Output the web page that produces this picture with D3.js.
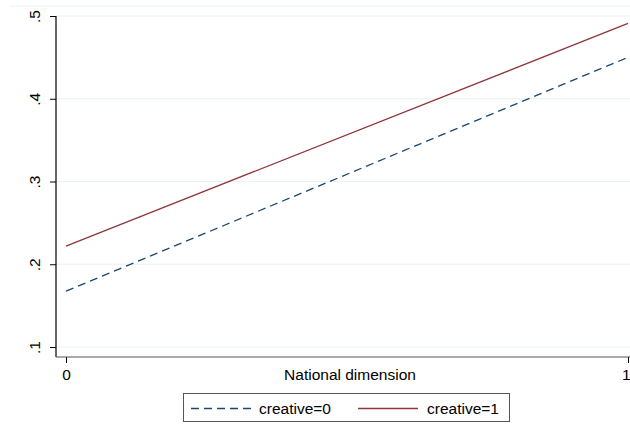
<!DOCTYPE html>
<html>
<head>
<meta charset="utf-8">
<script src="https://cdn.jsdelivr.net/npm/d3@7"></script>
<style>
  body { margin: 0; background: #fff; }
  text { font-family: "Liberation Sans", Arial, sans-serif; }
</style>
</head>
<body>
<div id="chart"></div>
<script>
'use strict';

// data
const xValues = [0, 1];
const creative0 = [0.1675, 0.450];
const creative1 = [0.222, 0.491];
const yTicks = [0.1, 0.2, 0.3, 0.4, 0.5];
const xTicks = [0, 1];
const seriesNames = ['creative=0', 'creative=1'];

const width = 630, height = 433;
const fontSize = '15.5px';

let svg = d3.select('#chart').append('svg')
    .attr('width', width)
    .attr('height', height);

let x = d3.scaleLinear().domain([0, 1]).range([66, 628]);
let y = d3.scaleLinear().domain([0.1, 0.5]).range([347, 16]);

let axisLeftX = 56, axisBottomY = 357;

// outer region line at top
svg.append('line')
    .attr('x1', 10).attr('x2', width)
    .attr('y1', 6).attr('y2', 6)
    .style('stroke', '#eaf2f3').style('stroke-width', 1);

// grid lines
svg.append('g').selectAll('line')
    .data(yTicks).enter()
    .append('line')
    .attr('x1', axisLeftX).attr('x2', width)
    .attr('y1', d => y(d)).attr('y2', d => y(d))
    .style('stroke', '#eaf2f3').style('stroke-width', 1);

// y axis
let yAxis = svg.append('g')
    .attr('transform', 'translate(' + axisLeftX + ',0)')
    .call(d3.axisLeft(y).tickValues(yTicks).tickSize(6).tickSizeOuter(0)
        .tickFormat(d => d3.format('.1f')(d).replace(/^0/, '')));
yAxis.select('.domain').remove();
yAxis.selectAll('.tick line').style('stroke', '#000');
yAxis.selectAll('.tick text')
    .attr('transform', 'rotate(-90)')
    .attr('x', 0).attr('y', -21)
    .attr('dy', '0.35em')
    .style('text-anchor', 'middle')
    .style('font-size', fontSize)
    .style('fill', '#000');

svg.append('line')
    .attr('x1', axisLeftX).attr('x2', axisLeftX)
    .attr('y1', 16).attr('y2', axisBottomY)
    .style('stroke', '#000').style('stroke-width', 1.2);

// x axis
let xAxis = svg.append('g')
    .attr('transform', 'translate(0,' + axisBottomY + ')')
    .call(d3.axisBottom(x).tickValues(xTicks).tickSize(6).tickSizeOuter(0)
        .tickFormat(d3.format('d')));
xAxis.select('.domain').remove();
xAxis.selectAll('.tick line').style('stroke', '#000');
xAxis.selectAll('.tick text')
    .attr('y', 12)
    .style('font-size', fontSize)
    .style('fill', '#000');
// last label sits against the right edge
xAxis.selectAll('.tick text')
    .filter(d => d === 1)
    .attr('x', 2)
    .style('text-anchor', 'end');

svg.append('line')
    .attr('x1', axisLeftX).attr('x2', width)
    .attr('y1', axisBottomY).attr('y2', axisBottomY)
    .style('stroke', '#555').style('stroke-width', 1.2);

svg.append('text')
    .attr('x', 350).attr('y', 380)
    .style('text-anchor', 'middle')
    .style('font-size', fontSize)
    .text('National dimension');

// lines
let valueLine = d3.line()
    .x((d, i) => x(xValues[i]))
    .y(d => y(d));

svg.append('path')
    .attr('d', valueLine(creative0))
    .style('fill', 'none')
    .style('stroke', '#1a476f')
    .style('stroke-width', 1.3)
    .style('stroke-dasharray', '8,5');

svg.append('path')
    .attr('d', valueLine(creative1))
    .style('fill', 'none')
    .style('stroke', '#90353b')
    .style('stroke-width', 1.3);

// legend
let legend = svg.append('g');
legend.append('rect')
    .attr('x', 183.5).attr('y', 393.5)
    .attr('width', 326).attr('height', 28)
    .style('fill', '#fff')
    .style('stroke', '#555');

legend.append('line')
    .attr('x1', 191).attr('x2', 252)
    .attr('y1', 408.5).attr('y2', 408.5)
    .style('stroke', '#1a476f').style('stroke-width', 1.3)
    .style('stroke-dasharray', '8,5');
legend.append('text')
    .attr('x', 259).attr('y', 414)
    .style('font-size', fontSize)
    .text(seriesNames[0]);

legend.append('line')
    .attr('x1', 358).attr('x2', 418)
    .attr('y1', 408.5).attr('y2', 408.5)
    .style('stroke', '#90353b').style('stroke-width', 1.3);
legend.append('text')
    .attr('x', 427).attr('y', 414)
    .style('font-size', fontSize)
    .text(seriesNames[1]);
</script>
</body>
</html>
